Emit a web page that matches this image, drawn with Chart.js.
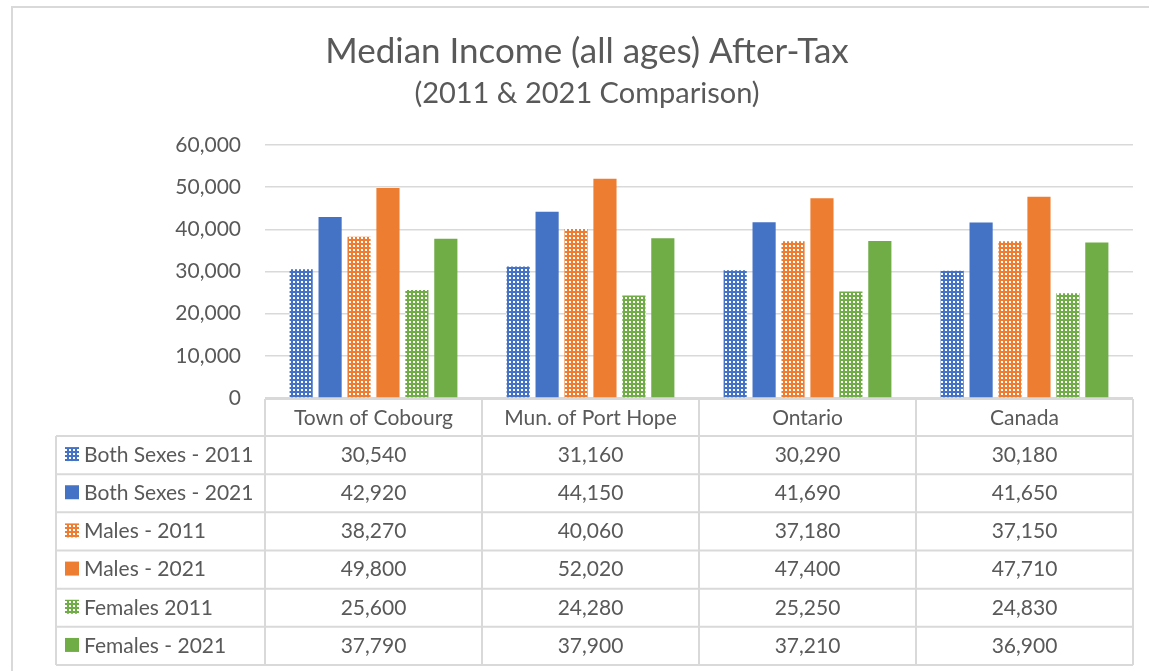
<!DOCTYPE html>
<html>
<head>
<meta charset="utf-8">
<script src="https://cdn.jsdelivr.net/npm/chart.js@4/dist/chart.umd.min.js"></script>
<style>
  html, body { margin: 0; padding: 0; background: #fff; overflow: hidden; }
  #wrap { width: 1149px; height: 671px; }
</style>
</head>
<body>
<div id="wrap"><canvas id="incomeChart" width="1149" height="671"></canvas></div>
<script>
// data
const categories = ['Town of Cobourg', 'Mun. of Port Hope', 'Ontario', 'Canada']
const both2011 = [30540, 31160, 30290, 30180]
const both2021 = [42920, 44150, 41690, 41650]
const males2011 = [38270, 40060, 37180, 37150]
const males2021 = [49800, 52020, 47400, 47710]
const females2011 = [25600, 24280, 25250, 24830]
const females2021 = [37790, 37900, 37210, 36900]
const yTicks = [0, 10000, 20000, 30000, 40000, 50000, 60000]

const BLUE = '#4472C4', ORANGE = '#ED7D31', GREEN = '#70AD47'
const TEXT = '#595959', LINE = '#d9d9d9'
const FONT = 'Lato'

// dotted fill like Excel's pattern fill
function dots(color){
  const c = document.createElement('canvas'); c.width = 4; c.height = 4
  const g = c.getContext('2d')
  g.fillStyle = color; g.fillRect(0, 0, 4, 4)
  g.fillStyle = '#fff'; g.fillRect(1, 1, 2, 2)
  return g.createPattern(c, 'repeat')
}

const fmt = v => v.toLocaleString('en-US')

// titles + outer border
const titlePlugin = {
  id: 'titles',
  beforeDraw(chart){
    const ctx = chart.ctx
    ctx.save()
    ctx.strokeStyle = LINE; ctx.lineWidth = 2
    ctx.beginPath(); ctx.moveTo(12, 700); ctx.lineTo(12, 7); ctx.lineTo(1160, 7); ctx.stroke()
    ctx.fillStyle = TEXT; ctx.textAlign = 'center'; ctx.textBaseline = 'alphabetic'
    ctx.font = `35px ${FONT}`
    ctx.fillText('Median Income (all ages) After-Tax', 587, 63)
    ctx.font = `29px ${FONT}`
    ctx.fillText('(2011 & 2021 Comparison)', 587, 103)
    ctx.restore()
  }
}

// Excel style data table under the plot, laid out from the x scale
const tablePlugin = {
  id: 'dataTable',
  afterDraw(chart){
    const ctx = chart.ctx, area = chart.chartArea, xs = chart.scales.x
    const colW = (area.right - area.left) / categories.length
    const top = area.bottom + 1, headBottom = 436, rowH = 38.17
    const sets = chart.data.datasets
    const bottom = headBottom + rowH * sets.length
    const tableLeft = 56
    ctx.save()
    ctx.strokeStyle = LINE; ctx.lineWidth = 2
    ctx.beginPath()
    ctx.moveTo(area.left, top); ctx.lineTo(area.right, top)
    for(let i=0;i<=sets.length;i++){
      const y = headBottom + rowH*i
      ctx.moveTo(tableLeft, y); ctx.lineTo(area.right, y)
    }
    ctx.moveTo(tableLeft, headBottom); ctx.lineTo(tableLeft, bottom)
    for(let i=0;i<=categories.length;i++){
      const x = area.left + colW*i
      ctx.moveTo(x, top); ctx.lineTo(x, bottom)
    }
    ctx.stroke()

    ctx.fillStyle = TEXT; ctx.font = `21px ${FONT}`
    ctx.textBaseline = 'middle'; ctx.textAlign = 'center'
    categories.forEach((c, i) => ctx.fillText(c, xs.getPixelForValue(i), (top + headBottom)/2 + 1))
    sets.forEach((ds, r) => {
      const yMid = headBottom + rowH*r + rowH/2
      ctx.fillStyle = ds.backgroundColor
      ctx.fillRect(65, yMid - 8, 14, 14)
      ctx.fillStyle = TEXT; ctx.textAlign = 'left'
      ctx.fillText(ds.label, 84, yMid)
      ctx.textAlign = 'center'
      ds.data.forEach((v, i) => ctx.fillText(fmt(v), xs.getPixelForValue(i), yMid))
    })
    ctx.restore()
  }
}

const mk = (label, data, bg) => ({label, data, backgroundColor: bg, categoryPercentage: 0.8, barPercentage: 0.8})

new Chart(document.getElementById('incomeChart'), {
  type: 'bar',
  data: {
    labels: categories,
    datasets: [
      mk('Both Sexes - 2011', both2011, dots(BLUE)),
      mk('Both Sexes - 2021', both2021, BLUE),
      mk('Males - 2011', males2011, dots(ORANGE)),
      mk('Males - 2021', males2021, ORANGE),
      mk('Females 2011', females2011, dots(GREEN)),
      mk('Females - 2021', females2021, GREEN)
    ]
  },
  options: {
    responsive: false, animation: false,
    layout: {padding: {left: 0, right: 16, top: 145, bottom: 671 - 398}},
    plugins: {legend: {display: false}, title: {display: false}, tooltip: {enabled: false}},
    scales: {
      x: {display: false},
      y: {
        min: 0, max: 60000,
        afterFit: s => { s.width = 265 },
        afterBuildTicks: s => { s.ticks = yTicks.map(v => ({value: v})) },
        border: {display: false},
        grid: {color: LINE, lineWidth: 1.5, drawTicks: false},
        ticks: {color: TEXT, font: {family: FONT, size: 21}, padding: 24, callback: v => fmt(v)}
      }
    }
  },
  plugins: [titlePlugin, tablePlugin]
})
</script>
</body>
</html>
